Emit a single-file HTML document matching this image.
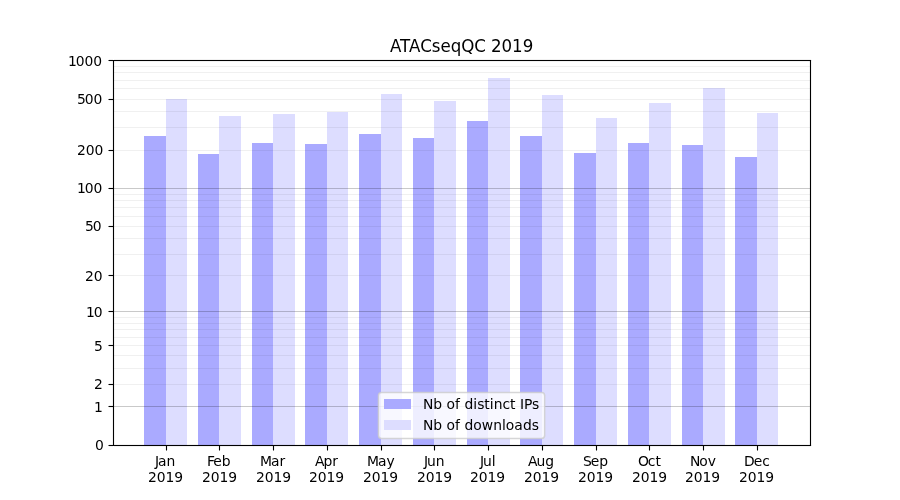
<!DOCTYPE html>
<html lang="en"><head><meta charset="utf-8"><title>ATACseqQC 2019</title>
<style>html,body{margin:0;padding:0;background:#fff}body{width:900px;height:500px;overflow:hidden}svg{display:block}text{font-family:"DejaVu Sans","Liberation Sans",sans-serif;fill:#000;white-space:pre}.t{font-size:13.889px}.ti{font-size:16.667px}</style>
</head><body>
<svg width="900" height="500" viewBox="0 0 900 500">
<rect width="900" height="500" fill="#fff"/>
<g shape-rendering="crispEdges">
<rect x="144" y="136" width="22" height="309" fill="#aaaaff"/>
<rect x="166" y="99" width="21" height="346" fill="#ddddff"/>
<rect x="198" y="154" width="21" height="291" fill="#aaaaff"/>
<rect x="219" y="116" width="22" height="329" fill="#ddddff"/>
<rect x="252" y="143" width="21" height="302" fill="#aaaaff"/>
<rect x="273" y="114" width="22" height="331" fill="#ddddff"/>
<rect x="305" y="144" width="22" height="301" fill="#aaaaff"/>
<rect x="327" y="112" width="21" height="333" fill="#ddddff"/>
<rect x="359" y="134" width="22" height="311" fill="#aaaaff"/>
<rect x="381" y="94" width="21" height="351" fill="#ddddff"/>
<rect x="413" y="138" width="21" height="307" fill="#aaaaff"/>
<rect x="434" y="101" width="22" height="344" fill="#ddddff"/>
<rect x="467" y="121" width="21" height="324" fill="#aaaaff"/>
<rect x="488" y="78" width="22" height="367" fill="#ddddff"/>
<rect x="520" y="136" width="22" height="309" fill="#aaaaff"/>
<rect x="542" y="95" width="21" height="350" fill="#ddddff"/>
<rect x="574" y="153" width="22" height="292" fill="#aaaaff"/>
<rect x="596" y="118" width="21" height="327" fill="#ddddff"/>
<rect x="628" y="143" width="21" height="302" fill="#aaaaff"/>
<rect x="649" y="103" width="22" height="342" fill="#ddddff"/>
<rect x="682" y="145" width="21" height="300" fill="#aaaaff"/>
<rect x="703" y="88" width="22" height="357" fill="#ddddff"/>
<rect x="735" y="157" width="22" height="288" fill="#aaaaff"/>
<rect x="757" y="113" width="21" height="332" fill="#ddddff"/>
<rect x="114" y="66" width="696" height="1" fill="#000" fill-opacity="0.06"/>
<rect x="114" y="72" width="696" height="1" fill="#000" fill-opacity="0.06"/>
<rect x="114" y="80" width="696" height="1" fill="#000" fill-opacity="0.06"/>
<rect x="114" y="88" width="696" height="1" fill="#000" fill-opacity="0.06"/>
<rect x="114" y="99" width="696" height="1" fill="#000" fill-opacity="0.06"/>
<rect x="114" y="111" width="696" height="1" fill="#000" fill-opacity="0.06"/>
<rect x="114" y="127" width="696" height="1" fill="#000" fill-opacity="0.06"/>
<rect x="114" y="150" width="696" height="1" fill="#000" fill-opacity="0.06"/>
<rect x="114" y="194" width="696" height="1" fill="#000" fill-opacity="0.06"/>
<rect x="114" y="200" width="696" height="1" fill="#000" fill-opacity="0.06"/>
<rect x="114" y="207" width="696" height="1" fill="#000" fill-opacity="0.06"/>
<rect x="114" y="216" width="696" height="1" fill="#000" fill-opacity="0.06"/>
<rect x="114" y="226" width="696" height="1" fill="#000" fill-opacity="0.06"/>
<rect x="114" y="238" width="696" height="1" fill="#000" fill-opacity="0.06"/>
<rect x="114" y="254" width="696" height="1" fill="#000" fill-opacity="0.06"/>
<rect x="114" y="275" width="696" height="1" fill="#000" fill-opacity="0.06"/>
<rect x="114" y="317" width="696" height="1" fill="#000" fill-opacity="0.06"/>
<rect x="114" y="323" width="696" height="1" fill="#000" fill-opacity="0.06"/>
<rect x="114" y="329" width="696" height="1" fill="#000" fill-opacity="0.06"/>
<rect x="114" y="337" width="696" height="1" fill="#000" fill-opacity="0.06"/>
<rect x="114" y="345" width="696" height="1" fill="#000" fill-opacity="0.06"/>
<rect x="114" y="355" width="696" height="1" fill="#000" fill-opacity="0.06"/>
<rect x="114" y="368" width="696" height="1" fill="#000" fill-opacity="0.06"/>
<rect x="114" y="384" width="696" height="1" fill="#000" fill-opacity="0.06"/>
<rect x="114" y="188" width="696" height="1" fill="#000" fill-opacity="0.21"/>
<rect x="114" y="311" width="696" height="1" fill="#000" fill-opacity="0.21"/>
<rect x="114" y="406" width="696" height="1" fill="#000" fill-opacity="0.21"/>
</g>
<g stroke="#000" stroke-width="1.11" fill="none">
<line x1="108.5" y1="60.5" x2="113" y2="60.5"/>
<line x1="108.5" y1="99.5" x2="113" y2="99.5"/>
<line x1="108.5" y1="150.5" x2="113" y2="150.5"/>
<line x1="108.5" y1="188.5" x2="113" y2="188.5"/>
<line x1="108.5" y1="226.5" x2="113" y2="226.5"/>
<line x1="108.5" y1="275.5" x2="113" y2="275.5"/>
<line x1="108.5" y1="311.5" x2="113" y2="311.5"/>
<line x1="108.5" y1="345.5" x2="113" y2="345.5"/>
<line x1="108.5" y1="384.5" x2="113" y2="384.5"/>
<line x1="108.5" y1="406.5" x2="113" y2="406.5"/>
<line x1="108.5" y1="445.5" x2="113" y2="445.5"/>
<line x1="166.5" y1="446" x2="166.5" y2="450.5"/>
<line x1="219.5" y1="446" x2="219.5" y2="450.5"/>
<line x1="273.5" y1="446" x2="273.5" y2="450.5"/>
<line x1="327.5" y1="446" x2="327.5" y2="450.5"/>
<line x1="381.5" y1="446" x2="381.5" y2="450.5"/>
<line x1="434.5" y1="446" x2="434.5" y2="450.5"/>
<line x1="488.5" y1="446" x2="488.5" y2="450.5"/>
<line x1="542.5" y1="446" x2="542.5" y2="450.5"/>
<line x1="596.5" y1="446" x2="596.5" y2="450.5"/>
<line x1="649.5" y1="446" x2="649.5" y2="450.5"/>
<line x1="703.5" y1="446" x2="703.5" y2="450.5"/>
<line x1="757.5" y1="446" x2="757.5" y2="450.5"/>
<g stroke="none" fill="#000" fill-opacity="0.055" shape-rendering="crispEdges"><rect x="114" y="59" width="697" height="1"/><rect x="114" y="61" width="696" height="1"/><rect x="114" y="444" width="696" height="1"/><rect x="114" y="446" width="697" height="1"/></g>
<g stroke-linecap="square"><line x1="113.5" y1="60.5" x2="113.5" y2="445.5"/><line x1="810.5" y1="60.5" x2="810.5" y2="445.5"/><line x1="113.5" y1="445.5" x2="810.5" y2="445.5"/><line x1="113.5" y1="60.5" x2="810.5" y2="60.5"/></g>
</g>
<g class="t">
<text transform="scale(1,1.02)" x="68 75.875 84.625 93.375" y="64.706">1000</text>
<text transform="scale(1,1.02)" x="77 84.75 93.5" y="101.961">500</text>
<text transform="scale(1,1.02)" x="77 85.75 94.5" y="151.961">200</text>
<text transform="scale(1,1.02)" x="77 84.875 93.625" y="189.216">100</text>
<text transform="scale(1,1.02)" x="85 92.75" y="226.471">50</text>
<text transform="scale(1,1.02)" x="85 93.75" y="275.490">20</text>
<text transform="scale(1,1.02)" x="86 93.875" y="310.784">10</text>
<text transform="scale(1,1.02)" x="94" y="344.118">5</text>
<text transform="scale(1,1.02)" x="94" y="381.373">2</text>
<text transform="scale(1,1.02)" x="94" y="403.922">1</text>
<text transform="scale(1,1.02)" x="95" y="441.176">0</text>
</g>
<g class="t">
<text transform="scale(1,1.02)" x="155 158 166.625" y="456.863">Jan</text>
<text transform="scale(1,1.02)" x="148 156.75 165.5 174.375" y="472.549">2019</text>
<text transform="scale(1,1.02)" x="207 213.25 221.75" y="456.863">Feb</text>
<text transform="scale(1,1.02)" x="202 210.75 219.5 228.375" y="472.549">2019</text>
<text transform="scale(1,1.02)" x="260 271 279.625" y="456.863">Mar</text>
<text transform="scale(1,1.02)" x="256 264.75 273.5 282.375" y="472.549">2019</text>
<text transform="scale(1,1.02)" x="315 323.5 332.375" y="456.863">Apr</text>
<text transform="scale(1,1.02)" x="309 317.75 326.5 335.375" y="472.549">2019</text>
<text transform="scale(1,1.02)" x="367 378 386.625" y="456.863">May</text>
<text transform="scale(1,1.02)" x="363 371.75 380.5 389.375" y="472.549">2019</text>
<text transform="scale(1,1.02)" x="424 427 435.75" y="456.863">Jun</text>
<text transform="scale(1,1.02)" x="417 425.75 434.5 443.375" y="472.549">2019</text>
<text transform="scale(1,1.02)" x="480 483 491.75" y="456.863">Jul</text>
<text transform="scale(1,1.02)" x="470 478.75 487.5 496.375" y="472.549">2019</text>
<text transform="scale(1,1.02)" x="528 536.5 545.25" y="456.863">Aug</text>
<text transform="scale(1,1.02)" x="524 532.75 541.5 550.375" y="472.549">2019</text>
<text transform="scale(1,1.02)" x="583 590.75 599.25" y="456.863">Sep</text>
<text transform="scale(1,1.02)" x="578 586.75 595.5 604.375" y="472.549">2019</text>
<text transform="scale(1,1.02)" x="638 647.875 655.5" y="456.863">Oct</text>
<text transform="scale(1,1.02)" x="632 640.75 649.5 658.375" y="472.549">2019</text>
<text transform="scale(1,1.02)" x="690 699.375 707.875" y="456.863">Nov</text>
<text transform="scale(1,1.02)" x="685 693.75 702.5 711.375" y="472.549">2019</text>
<text transform="scale(1,1.02)" x="744 753.75 762.25" y="456.863">Dec</text>
<text transform="scale(1,1.02)" x="739 747.75 756.5 765.375" y="472.549">2019</text>
</g>
<g class="ti"><text transform="scale(1,1.04)" x="390 400.125 409.125 420.25 431.75 440.5 450.75 461.25 474.25 485.75 491 501.625 512.125 522.75" y="50.000">ATACseqQC 2019</text></g>
<rect x="378.42" y="392.5" width="166.26" height="46.06" rx="3.2" ry="3.2" fill="#fff" fill-opacity="0.8" stroke="#ccc" stroke-opacity="0.8" stroke-width="1.45"/>
<g shape-rendering="crispEdges"><rect x="384" y="399" width="27" height="10" fill="#aaaaff"/><rect x="384" y="420" width="27" height="10" fill="#ddddff"/></g>
<g class="t"><text transform="scale(1,1.02)" x="423 433.375 442.25 446.625 455.125 460.125 464.5 473.375 477.25 484.375 489.875 493.75 502.5 510.125 515.625 520 524 532.125" y="400.980">Nb of distinct IPs</text><text transform="scale(1,1.02)" x="423 433.375 442.25 446.625 455.125 460.125 464.5 473.375 481.875 493.25 502 505.875 514.375 523 531.875" y="421.569">Nb of downloads</text></g>
</svg></body></html>
